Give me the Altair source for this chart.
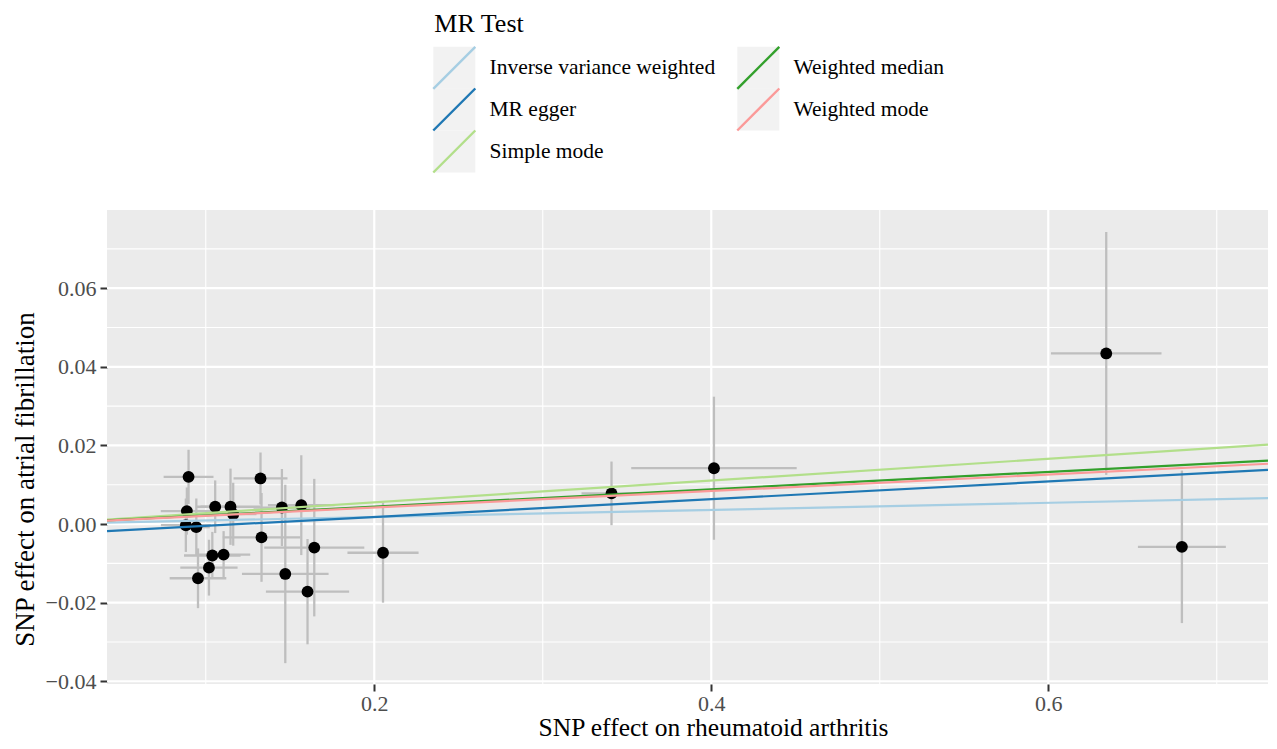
import altair as alt
import pandas as pd

# ---- SNP-level estimates ----
snp_x = [0.0898, 0.0888, 0.0882, 0.0944, 0.0954, 0.1019, 0.1039, 0.1056, 0.1106, 0.1147,
         0.1163, 0.1325, 0.1331, 0.1452, 0.1472, 0.1567, 0.1604, 0.1644, 0.2052, 0.3408,
         0.4016, 0.6344, 0.6793]
snp_y = [0.0120, 0.0033, -0.0003, -0.0008, -0.0138, -0.0111, -0.0080, 0.0044, -0.0078, 0.0044,
         0.0025, 0.0116, -0.0034, 0.0042, -0.0127, 0.0048, -0.0172, -0.0060, -0.0073, 0.0078,
         0.0142, 0.0434, -0.0058]
se_x = [0.0148, 0.0155, 0.0148, 0.0080, 0.0168, 0.0170, 0.0168, 0.0110, 0.0158, 0.0178,
        0.0138, 0.0160, 0.0230, 0.0168, 0.0257, 0.0198, 0.0247, 0.0297, 0.0211, 0.0178,
        0.0491, 0.0328, 0.0261]
se_y = [0.0069, 0.0060, 0.0068, 0.0073, 0.0076, 0.0071, 0.0060, 0.0067, 0.0060, 0.0097,
        0.0080, 0.0066, 0.0113, 0.0098, 0.0227, 0.0127, 0.0134, 0.0175, 0.0127, 0.0081,
        0.0182, 0.0309, 0.0194]

# ---- MR method fits ----
methods = ["Inverse variance weighted", "MR egger", "Simple mode", "Weighted median", "Weighted mode"]
slopes = [0.0090, 0.0226, 0.02766, 0.02212, 0.0210]
intercepts = [0.0, -0.00272, 0.0, 0.0, 0.0]
colors = ["#A6CEE3", "#1F78B4", "#B2DF8A", "#33A02C", "#FB9A99"]
# grey key backgrounds: same column membership, different order (keeps legends separate)
bg_order = ["MR egger", "Inverse variance weighted", "Simple mode", "Weighted mode", "Weighted median"]

# ---- axes ----
x_domain = [0.0414, 0.7304]
y_domain = [-0.0407, 0.0799]
x_major = [0.2, 0.4, 0.6]
x_minor = [0.1, 0.3, 0.5, 0.7]
y_major = [-0.04, -0.02, 0.0, 0.02, 0.04, 0.06]
y_minor = [-0.03, -0.01, 0.01, 0.03, 0.05, 0.07]

FONT = "Liberation Serif"

pts = pd.DataFrame({"x": snp_x, "y": snp_y, "sx": se_x, "sy": se_y})
pts["xlo"] = pts.x - pts.sx
pts["xhi"] = pts.x + pts.sx
pts["ylo"] = pts.y - pts.sy
pts["yhi"] = pts.y + pts.sy

rows = []
for m, b, a in zip(methods, slopes, intercepts):
    for xv in x_domain:
        rows.append({"method": m, "x": xv, "y": a + b * xv})
lines = pd.DataFrame(rows)
legend_df = pd.DataFrame({"method2": methods})

xscale = alt.Scale(domain=x_domain, nice=False, zero=False)
yscale = alt.Scale(domain=y_domain, nice=False, zero=False)

xaxis = alt.Axis(values=x_major, format=".1f", grid=False, domain=False,
                 tickSize=7, tickWidth=2, tickColor="#333333",
                 labelColor="#4D4D4D", labelFont=FONT, labelFontSize=22, labelPadding=2,
                 title="SNP effect on rheumatoid arthritis", titleFont=FONT, titleFontSize=25.5,
                 titleFontWeight="normal", titleColor="black", titlePadding=1,
                 titleX=606)
yaxis = alt.Axis(values=y_major, format=".2f", grid=False, domain=False,
                 tickSize=7, tickWidth=2, tickColor="#333333",
                 labelColor="#4D4D4D", labelFont=FONT, labelFontSize=22, labelPadding=4,
                 title="SNP effect on atrial fibrillation", titleFont=FONT, titleFontSize=27,
                 titleFontWeight="normal", titleColor="black", titlePadding=6,
                 titleY=269)


def X(f):
    return alt.X(f, type="quantitative", scale=xscale, axis=xaxis)


def Y(f):
    return alt.Y(f, type="quantitative", scale=yscale, axis=yaxis)


common_legend = dict(orient="none", legendX=327.3, legendY=-199.5, columns=2,
                     symbolSize=812, symbolStrokeWidth=2.4, symbolOffset=4.5,
                     labelFont=FONT, labelFontSize=21.5, labelOffset=19.7,
                     labelLimit=400, titleFont=FONT, titleFontSize=26, titleFontWeight="normal",
                     titlePadding=15.5, rowPadding=-20, columnPadding=17)

# invisible layer that only supplies the grey legend-key backgrounds
bg = alt.Chart(legend_df).mark_point(filled=True, opacity=0).encode(
    fill=alt.Fill("method2:N",
                  scale=alt.Scale(domain=bg_order, range=["#F2F2F2"] * 5),
                  legend=alt.Legend(symbolType="M-1.474,-1.474H1.474V1.474H-1.474Z",
                                    symbolStrokeColor="transparent",
                                    symbolOpacity=1, labelColor="transparent",
                                    titleColor="transparent", title="MR Test", **common_legend))
)

gx_minor = alt.Chart(pd.DataFrame({"v": x_minor})).mark_rule(color="white", strokeWidth=1.1).encode(x=X("v"))
gx_major = alt.Chart(pd.DataFrame({"v": x_major})).mark_rule(color="white", strokeWidth=2.2).encode(x=X("v"))
gy_minor = alt.Chart(pd.DataFrame({"v": y_minor})).mark_rule(color="white", strokeWidth=1.1).encode(y=Y("v"))
gy_major = alt.Chart(pd.DataFrame({"v": y_major})).mark_rule(color="white", strokeWidth=2.2).encode(y=Y("v"))

ebar_v = alt.Chart(pts).mark_rule(color="#BEBEBE", strokeWidth=2.3).encode(
    x=X("x"), y=Y("ylo"), y2="yhi")
ebar_h = alt.Chart(pts).mark_rule(color="#BEBEBE", strokeWidth=2.3).encode(
    y=Y("y"), x=X("xlo"), x2="xhi")
points = alt.Chart(pts).mark_circle(color="black", size=140, opacity=1).encode(x=X("x"), y=Y("y"))

fits = alt.Chart(lines).mark_line(strokeWidth=2.2, clip=True).encode(
    x=X("x"), y=Y("y"),
    stroke=alt.Stroke("method:N",
                      scale=alt.Scale(domain=methods, range=colors),
                      legend=alt.Legend(symbolType="M-1.474,1.474L1.474,-1.474",
                                        labelColor="black", titleColor="black",
                                        title="MR Test", **common_legend)),
)

chart = alt.layer(bg, gx_minor, gy_minor, gx_major, gy_major, ebar_v, ebar_h, points, fits).properties(
    width=1161, height=474,
    autosize=alt.AutoSizeParams(type="none"),
    padding={"left": 99, "top": 202, "right": 0, "bottom": 56},
).configure_view(fill="#EBEBEB", stroke=None)

chart.save("out.html", embed_options={"renderer": "svg", "actions": False})
